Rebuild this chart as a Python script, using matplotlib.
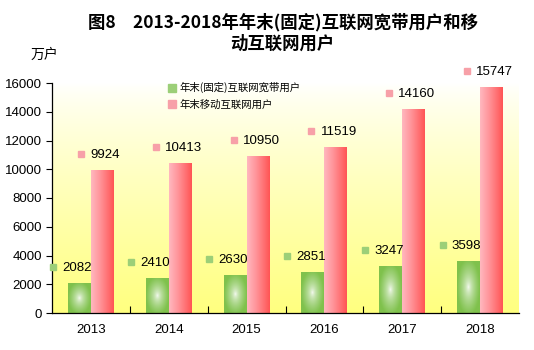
import numpy as np
import matplotlib
matplotlib.use("Agg")
import matplotlib.pyplot as plt
from matplotlib.lines import Line2D
from matplotlib import transforms

plt.rcParams['font.family'] = ['Liberation Sans', 'Noto Sans CJK SC', 'DejaVu Sans']

years = ['2013', '2014', '2015', '2016', '2017', '2018']
broadband = [2082, 2410, 2630, 2851, 3247, 3598]
mobile = [9924, 10413, 10950, 11519, 14160, 15747]
series_names = ['年末(固定)互联网宽带用户', '年末移动互联网用户']
y_ticks = [0, 2000, 4000, 6000, 8000, 10000, 12000, 14000, 16000]

W, H = 534, 350
fig = plt.figure(figsize=(W / 100, H / 100), dpi=100)
ax = fig.add_axes([52 / W, 37 / H, 467 / W, 230 / H])

x = np.arange(len(years))
bw = 0.295

# background: white at top fading to pale yellow
bg = np.linspace(0, 1, 256)[:, None] ** 0.8
top = np.array([1.0, 1.0, 1.0])
bot = np.array([1.0, 1.0, 0.5])
bg_img = (top * (1 - bg[..., None]) + bot * bg[..., None]) * np.ones((1, 2, 1))
ax.imshow(bg_img, extent=[0, 1, 0, 1], transform=ax.transAxes, aspect='auto', zorder=0)

bars_g = ax.bar(x - bw / 2, broadband, bw, facecolor='none', edgecolor='none', zorder=2)
bars_p = ax.bar(x + bw / 2, mobile, bw, facecolor='none', edgecolor='none', zorder=2)

# green bars: white glow in the middle, green at the edges
gy, gx = np.mgrid[0:1:64j, 0:1:64j]
d = np.clip(np.sqrt(((gx - 0.5) / 0.5) ** 2 + ((gy - 0.5) / 0.55) ** 2), 0, 1) ** 0.6
green = np.array([0.50, 0.76, 0.30])
white = np.array([1.0, 1.0, 1.0])
g_img = white * (1 - d[..., None]) + green * d[..., None]

# pink bars: light on the left, deeper red on the right
t = np.linspace(0, 1, 64)
left = np.array([1.0, 0.72, 0.75])
mid = np.array([1.0, 0.58, 0.60])
right = np.array([1.0, 0.33, 0.33])
cols = np.where(t[:, None] < 0.4,
                left + (mid - left) * (t[:, None] / 0.4),
                mid + (right - mid) * ((t[:, None] - 0.4) / 0.6))
p_img = np.tile(cols[None, :, :], (8, 1, 1))

for bars, img in ((bars_g, g_img), (bars_p, p_img)):
    for b in bars:
        x0, y0 = b.get_x(), b.get_y()
        im = ax.imshow(img, extent=[x0, x0 + b.get_width(), y0, y0 + b.get_height()],
                       aspect='auto', zorder=1.5, interpolation='bilinear')
        im.set_clip_path(b)

# value labels with a small square marker in front
for bars, vals, mcol, dx in ((bars_g, broadband, '#9ccf78', -2), (bars_p, mobile, '#f7a0a8', 3)):
    for b, v in zip(bars, vals):
        cx = b.get_x() + b.get_width() / 2
        txt = str(v)
        tw = 7.0 * len(txt)
        tr = transforms.offset_copy(ax.transData, fig=fig, x=dx, y=15, units='dots')
        ax.text(cx, v, txt, transform=tr, ha='center', va='center', fontsize=9.5, zorder=5)
        trm = transforms.offset_copy(ax.transData, fig=fig, x=dx - tw / 2 - 10, y=16, units='dots')
        ax.plot([cx], [v], 's', ms=5, color=mcol, mec=mcol, transform=trm, zorder=5, clip_on=False)

ax.set_xlim(-0.5, len(years) - 0.5)
ax.set_ylim(0, 16000)
ax.set_yticks(y_ticks)
ax.set_yticklabels([str(v) for v in y_ticks], fontsize=9.5)
ax.set_xticks(x)
ax.set_xticklabels(years, fontsize=9.5)
ax.tick_params(axis='x', length=0, pad=8)
ax.tick_params(axis='y', length=4, direction='out', pad=3)
ax.set_xticks(np.arange(0.5, len(years) - 1, 1), minor=True)
ax.tick_params(axis='x', which='minor', length=5, direction='in', width=0.8)
for s in ('top', 'right'):
    ax.spines[s].set_visible(False)
ax.spines['left'].set_linewidth(0.9)
ax.spines['bottom'].set_linewidth(0.9)

handles = [Line2D([], [], marker='s', ls='none', ms=6, color='#9ccf78'),
           Line2D([], [], marker='s', ls='none', ms=6, color='#f7a0a8')]
ax.legend(handles, series_names, loc='upper left', bbox_to_anchor=(163 / W, 1 - 77 / H),
          bbox_transform=fig.transFigure, frameon=False,
          handlelength=0.7, handletextpad=0.4, labelspacing=0.55, borderpad=0,
          prop={'family': ['Noto Sans CJK SC'], 'size': 7.5})

fig.text(283 / W, 1 - 22 / H, '图8　2013-2018年年末(固定)互联网宽带用户和移',
         ha='center', va='center', fontsize=12.5, fontweight='bold', family=['Noto Sans CJK SC'])
fig.text(282 / W, 1 - 44 / H, '动互联网用户',
         ha='center', va='center', fontsize=12.5, fontweight='bold', family=['Noto Sans CJK SC'])
fig.text(44 / W, 1 - 55 / H, '万户', ha='center', va='center', fontsize=10,
         family=['Noto Sans CJK SC'])

fig.savefig('out.png', dpi=100)
